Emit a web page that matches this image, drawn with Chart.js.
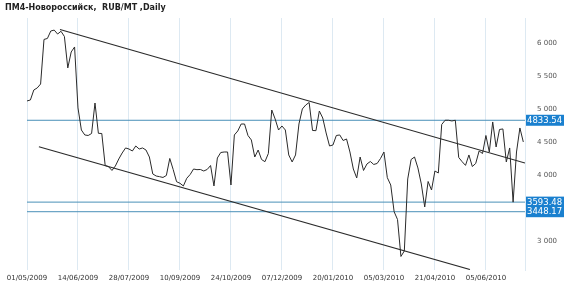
<!DOCTYPE html>
<html>
<head>
<meta charset="utf-8">
<title>ПМ4-Новороссийск</title>
<script src="https://cdn.jsdelivr.net/npm/chart.js@4/dist/chart.umd.min.js"></script>
<style>
  html, body { margin: 0; padding: 0; background: #fff; }
  #wrap { width: 570px; height: 289px; position: relative; }
</style>
</head>
<body>
<div id="wrap"><canvas id="myChart"></canvas></div>
<script>
// Título y etiquetas
const chartTitle = 'ПМ4-Новороссийск,  RUB/MT ,Daily'
const tickLabels = ['01/05/2009', '14/06/2009', '28/07/2009', '10/09/2009', '24/10/2009',
  '07/12/2009', '20/01/2010', '05/03/2010', '21/04/2010', '05/06/2010']
const pointsPerTick = 15

// Precio diario (índice de sesión)
const prices = [
  5126, 5141, 5292, 5323, 5383, 6058, 6073, 6186, 6200, 6140,
  6182, 6103, 5626, 5868, 5944, 5020, 4686, 4611, 4603, 4633,
  5095, 4636, 4633, 4148, 4130, 4073, 4141, 4247, 4338, 4414,
  4398, 4368, 4444, 4398, 4414, 4383, 4277, 4020, 3989, 3979,
  3967, 3997, 4255, 4088, 3903, 3879, 3838, 3955, 4012, 4095,
  4085, 4088, 4065, 4088, 4148, 3838, 4262, 4345, 4353, 4353,
  3853, 4611, 4671, 4777, 4777, 4603, 4535, 4277, 4383, 4239,
  4206, 4330, 4989, 4853, 4686, 4747, 4686, 4308, 4202, 4308,
  4777, 5005, 5065, 5103, 4679, 4676, 4974, 4868, 4641, 4444,
  4459, 4603, 4611, 4527, 4550, 4353, 4095, 3959, 4277, 4073,
  4171, 4209, 4164, 4179, 4255, 4353, 3964, 3853, 3448, 3330,
  2770, 2853, 3944, 4239, 4277, 4111, 3868, 3520, 3906, 3777,
  4065, 4035, 4770, 4834, 4834, 4823, 4834, 4270, 4206, 4150,
  4308, 4133, 4179, 4368, 4330, 4603, 4353, 4808, 4429, 4694,
  4702, 4202, 4414, 3593, 4353, 4717, 4505
]

// Líneas de tendencia [índice, precio]
const upperTrend = [[9.7, 6209], [146.5, 4186]]
const lowerTrend = [[3.5, 4433], [130.3, 2573]]

// Niveles horizontales
const levels = [4833.54, 3593.48, 3448.17]

// Escalas
const xMax = 146.5
const yMin = 2565
const yMax = 6383
const yTicks = [3000, 3500, 4000, 4500, 5000, 5500, 6000]

const lineColor = '#2a2a2a'
const levelColor = '#4a90b8'
const badgeColor = '#1a80cf'
const gridColor = '#dde9f2'

function fmtThousands(v) {
  return String(v).replace(/\B(?=(\d{3})+(?!\d))/g, ' ')
}

// Título y etiquetas de niveles
const overlayPlugin = {
  id: 'overlay',
  afterDraw(chart) {
    const ctx = chart.ctx
    const y = chart.scales.y
    ctx.save()
    ctx.fillStyle = '#222'
    ctx.font = 'bold 8px "DejaVu Sans"'
    ctx.textBaseline = 'middle'
    ctx.textAlign = 'left'
    ctx.fillText(chartTitle, 5, 8)

    ctx.font = '8.5px "DejaVu Sans"'
    levels.forEach(function(lv) {
      const py = y.getPixelForValue(lv)
      ctx.fillStyle = badgeColor
      ctx.fillRect(chart.chartArea.right + 1, py - 5.5, 38, 11)
      ctx.fillStyle = '#fff'
      ctx.fillText(lv.toFixed(2), chart.chartArea.right + 2, py + 0.5)
    })
    ctx.restore()
  }
}

const datasets = [
  {
    data: prices.map(function(v, i) { return { x: i, y: v } }),
    borderColor: lineColor,
    borderWidth: 1,
    pointRadius: 0,
    tension: 0
  },
  {
    data: upperTrend.map(function(p) { return { x: p[0], y: p[1] } }),
    borderColor: lineColor,
    borderWidth: 1.2,
    pointRadius: 0
  },
  {
    data: lowerTrend.map(function(p) { return { x: p[0], y: p[1] } }),
    borderColor: lineColor,
    borderWidth: 1.2,
    pointRadius: 0
  }
]
levels.forEach(function(lv) {
  datasets.push({
    data: [{ x: 0, y: lv }, { x: xMax, y: lv }],
    borderColor: levelColor,
    borderWidth: 1,
    pointRadius: 0
  })
})

new Chart(document.getElementById('myChart'), {
  type: 'line',
  data: { datasets: datasets },
  options: {
    responsive: true,
    maintainAspectRatio: false,
    animation: false,
    layout: { padding: { top: 18, left: 27, right: 0, bottom: 0 } },
    plugins: { legend: { display: false }, tooltip: { enabled: false } },
    scales: {
      x: {
        type: 'linear',
        min: 0,
        max: xMax,
        afterBuildTicks(scale) {
          scale.ticks = tickLabels.map(function(t, k) { return { value: k * pointsPerTick } })
        },
        afterFit(scale) { scale.height = 19 },
        grid: { color: gridColor, drawTicks: false },
        border: { display: false },
        ticks: {
          autoSkip: false,
          maxRotation: 0,
          padding: 4,
          color: '#333',
          font: { family: 'DejaVu Sans', size: 7 },
          callback: function(v) { return tickLabels[Math.round(v / pointsPerTick)] }
        }
      },
      y: {
        position: 'right',
        min: yMin,
        max: yMax,
        afterBuildTicks(scale) {
          scale.ticks = yTicks.map(function(v) { return { value: v } })
        },
        afterFit(scale) { scale.width = 45 },
        grid: { display: false },
        border: { display: true, color: gridColor },
        ticks: {
          padding: 4,
          color: '#555',
          font: { family: 'DejaVu Sans', size: 7 },
          callback: fmtThousands
        }
      }
    }
  },
  plugins: [overlayPlugin]
})
</script>
</body>
</html>
